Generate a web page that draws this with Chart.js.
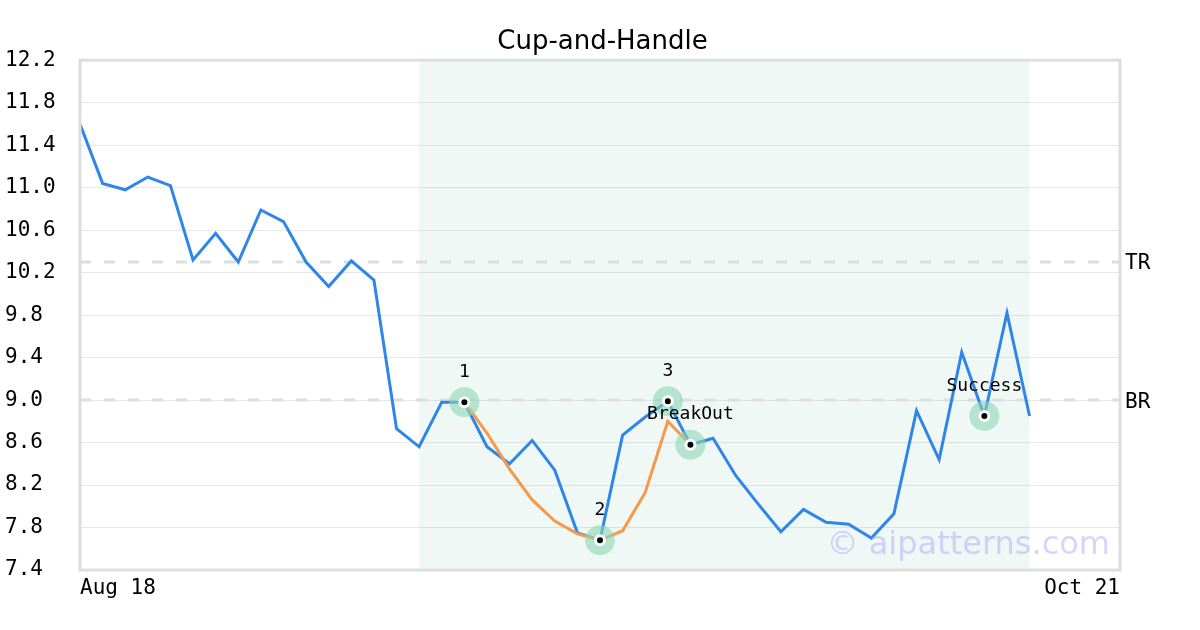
<!DOCTYPE html>
<html>
<head>
<meta charset="utf-8">
<script src="https://cdn.jsdelivr.net/npm/chart.js@4.4.1/dist/chart.umd.min.js"></script>
<style>
  html, body { margin: 0; background: #fff; }
  #wrap { width: 1200px; height: 630px; }
</style>
</head>
<body>
<div id="wrap"><canvas id="chart"></canvas></div>
<script>
// data
var dateTicks = ['Aug 18', 'Oct 21'];
var lastSlot = 46; // slots on the x axis (first = 0)
var prices = [11.60, 11.04, 10.98, 11.10, 11.02, 10.32, 10.57, 10.30, 10.79, 10.68,
              10.30, 10.07, 10.31, 10.13, 8.73, 8.56, 8.98, 8.98, 8.56, 8.40,
              8.62, 8.34, 7.75, 7.68, 8.67, 8.84, 8.99, 8.58, 8.64, 8.29,
              8.02, 7.76, 7.97, 7.85, 7.83, 7.70, 7.93, 8.90, 8.44, 9.45,
              8.85, 9.82, 8.85];
var cupStart = 17;
var cupFit = [8.98, 8.69, 8.35, 8.06, 7.86, 7.74, 7.68, 7.77, 8.13, 8.80, 8.58];
var markerIdx = [17, 23, 26, 27, 40];
var markerText = ['1', '2', '3', 'BreakOut', 'Success'];
var levelNames = ['TR', 'BR'];
var levelValues = [10.3, 9.0];
var zoneStart = 15, zoneEnd = 42;

var mono = "'DejaVu Sans Mono', monospace";
var sans = "'DejaVu Sans', sans-serif";

var pricePts = prices.map(function(v, i) { return {x: i, y: v}; });
var cupPts = cupFit.map(function(v, i) { return {x: cupStart + i, y: v}; });
var markerPts = markerIdx.map(function(i) { return {x: i, y: prices[i]}; });

function levelSet(v) {
  return {
    data: [{x: 0, y: v}, {x: lastSlot, y: v}],
    borderColor: '#dddddd', borderWidth: 3, borderDash: [11, 13],
    pointRadius: 0, fill: false
  };
}

var extras = {
  id: 'extras',
  beforeDatasetsDraw: function(chart) {
    var ctx = chart.ctx, a = chart.chartArea, x = chart.scales.x;
    ctx.save();
    ctx.fillStyle = 'rgba(100,190,150,0.10)';
    var x0 = x.getPixelForValue(zoneStart), x1 = x.getPixelForValue(zoneEnd);
    ctx.fillRect(x0, a.top, x1 - x0, a.bottom - a.top);
    ctx.restore();
  },
  afterDatasetsDraw: function(chart) {
    var ctx = chart.ctx, a = chart.chartArea, x = chart.scales.x, y = chart.scales.y;
    ctx.save();
    // frame
    ctx.strokeStyle = '#dedede';
    ctx.lineWidth = 3;
    ctx.strokeRect(a.left, a.top, a.right - a.left, a.bottom - a.top);

    // level names
    ctx.fillStyle = '#000';
    ctx.font = '21px ' + mono;
    ctx.textAlign = 'left';
    ctx.textBaseline = 'middle';
    levelNames.forEach(function(n, i) {
      ctx.fillText(n, a.right + 5, y.getPixelForValue(levelValues[i]) + 2);
    });

    // marker labels
    ctx.font = '18px ' + mono;
    ctx.textAlign = 'center';
    markerIdx.forEach(function(idx, i) {
      ctx.fillText(markerText[i], x.getPixelForValue(idx), y.getPixelForValue(prices[idx]) - 30);
    });

    // watermark
    ctx.font = '32px ' + sans;
    ctx.fillStyle = 'rgba(150,150,255,0.4)';
    ctx.textAlign = 'right';
    ctx.textBaseline = 'alphabetic';
    ctx.fillText('\u00a9 aipatterns.com', 1110, 554);
    ctx.restore();
  }
};

new Chart(document.getElementById('chart'), {
  type: 'line',
  data: {
    datasets: [
      { // black dot with white ring
        data: markerPts, showLine: false,
        pointRadius: 4.5, pointBorderWidth: 3,
        pointBackgroundColor: '#000', pointBorderColor: '#fff'
      },
      { // halo
        data: markerPts, showLine: false,
        pointRadius: 15, pointBorderWidth: 0,
        pointBackgroundColor: 'rgba(140,215,180,0.6)', pointBorderColor: 'rgba(0,0,0,0)'
      },
      {
        data: cupPts, borderColor: '#f7984a', borderWidth: 3,
        pointRadius: 0, fill: false, tension: 0
      },
      {
        data: pricePts, borderColor: '#2e86e8', borderWidth: 3,
        pointRadius: 0, fill: false, tension: 0
      },
      levelSet(levelValues[0]),
      levelSet(levelValues[1])
    ]
  },
  options: {
    responsive: true,
    maintainAspectRatio: false,
    animation: false,
    devicePixelRatio: 1,
    layout: { padding: { left: 5, right: 0, top: 0, bottom: 0 } },
    plugins: {
      legend: { display: false },
      tooltip: { enabled: false },
      title: {
        display: true, text: 'Cup-and-Handle', color: '#000',
        font: { family: sans, size: 26, weight: 'normal' },
        padding: { top: 27, bottom: 2 }
      }
    },
    scales: {
      x: {
        type: 'linear', min: 0, max: lastSlot,
        grid: { display: false, drawTicks: false },
        border: { display: false },
        afterBuildTicks: function(s) { s.ticks = [{value: 0}, {value: lastSlot}]; },
        afterFit: function(s) { s.height = 60; },
        ticks: {
          align: 'inner', maxRotation: 0, autoSkip: false, padding: 6,
          color: '#000', font: { family: mono, size: 21 },
          callback: function(v) { return v === 0 ? dateTicks[0] : dateTicks[1]; }
        }
      },
      y: {
        min: 7.4, max: 12.2,
        grid: { color: '#e8e8e8', lineWidth: 1, drawTicks: false },
        border: { display: false },
        afterFit: function(s) { s.width = 75; },
        ticks: {
          stepSize: 0.4, crossAlign: 'far', padding: 8,
          color: '#000', font: { family: mono, size: 21 },
          callback: function(v) { return v.toFixed(1); }
        }
      },
      yRight: {
        position: 'right', min: 7.4, max: 12.2,
        grid: { display: false, drawTicks: false },
        border: { display: false },
        ticks: { display: false },
        afterFit: function(s) { s.width = 80; }
      }
    }
  },
  plugins: [extras]
});
</script>
</body>
</html>
